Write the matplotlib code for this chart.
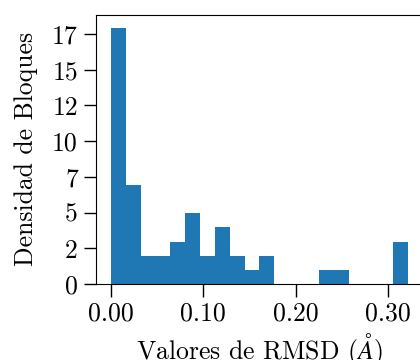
import numpy as np
import matplotlib
matplotlib.use("Agg")
from matplotlib import pyplot as plt

plt.rcParams['font.family'] = 'serif'
plt.rcParams['font.serif'] = ['cmr10']
plt.rcParams['mathtext.fontset'] = 'cm'
plt.rcParams['axes.formatter.use_mathtext'] = True

# histogram bins (RMSD, Angstrom) and densities
bin_edges = np.linspace(0.0, 0.3215, 21)
densities = [17.95, 6.95, 1.98, 1.98, 2.96, 4.99, 1.98, 4.01, 1.98, 1.0,
             1.98, 0.0, 0.0, 0.0, 1.0, 1.0, 0.0, 0.0, 0.0, 2.96]
x_ticks = [0.0, 0.1, 0.2, 0.3]
x_tick_labels = ['0.00', '0.10', '0.20', '0.30']
y_ticks = [0, 2.5, 5, 7.5, 10, 12.5, 15, 17.5]
y_tick_labels = ['0', '2', '5', '7', '10', '12', '15', '17']

fig = plt.figure(figsize=(4.2, 3.6), dpi=100)
ax = fig.add_axes([0.2286, 0.211, 0.778, 0.748])

ax.stairs(densities, bin_edges, fill=True, color='#1f77b4')
ax.margins(x=0.05, y=0.05)
ax.set_ylim(bottom=0)

ax.set_xticks(x_ticks)
ax.set_xticklabels(x_tick_labels)
ax.set_yticks(y_ticks)
ax.set_yticklabels(y_tick_labels)
ax.tick_params(labelsize=18.5, length=9, width=1, pad=4)

ax.set_xlabel(r'Valores de RMSD ($\AA$)', fontsize=18.5, labelpad=4)
ax.set_ylabel('Densidad de Bloques', fontsize=18.5, labelpad=10)

fig.savefig('out.png', dpi=100)
